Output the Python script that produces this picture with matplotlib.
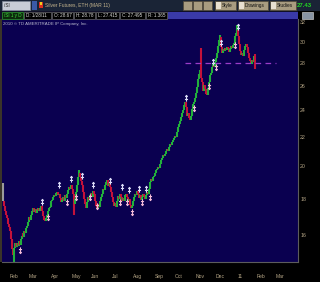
import numpy as np
import pandas as pd
import matplotlib
matplotlib.use("Agg")
import matplotlib.pyplot as plt
from matplotlib.patches import Rectangle
from matplotlib.path import Path

plt.rcParams["font.family"] = ["Liberation Sans", "DejaVu Sans"]

# ------------------------------------------------------------------------
# Data: daily closes, /SI Mar-11, 2010-01-21 .. 2011-01-28
# ------------------------------------------------------------------------

holidays = ["2010-02-15", "2010-04-02", "2010-05-31", "2010-07-05", "2010-09-06",
            "2010-11-25", "2010-12-24", "2011-01-17", "2011-02-21"]

first_open = 18.9
closes = [
  # Jan 2010
  17.85, 17.6, 17.3, 17.1, 16.9, 16.6, 16.45,
  # Feb
  16.2, 15.8, 15.3, 15.0, 15.35, 15.6, 15.4, 15.6, 15.45, 15.7, 15.5, 15.8, 15.95,
  16.1, 15.9, 16.2, 16.1, 16.35, 16.5,
  # Mar
  16.7, 16.95, 16.8, 17.1, 17.3, 17.45, 17.25, 17.4, 17.2, 17.35, 17.5, 17.3, 17.45,
  17.6, 17.3, 17.0, 16.8, 16.75, 16.9, 17.1, 17.3, 17.5, 17.55,
  # Apr
  17.85, 17.95, 18.1, 18.25, 18.15, 18.35, 18.4, 18.2, 18.3, 18.05, 17.8, 17.95, 18.1,
  17.85, 18.0, 18.2, 18.05, 18.3, 18.55, 18.7, 18.6,
  # May
  18.85, 18.6, 18.3, 17.7, 18.0, 18.4, 18.8, 19.3, 19.6, 19.3, 19.1, 18.8, 18.4, 18.0,
  17.7, 17.5, 17.8, 18.1, 17.95, 18.2,
  # Jun
  18.35, 18.1, 18.45, 18.3, 17.9, 17.6, 17.45, 17.7, 17.55, 17.85, 18.1, 18.3, 18.6,
  18.5, 18.8, 19.0, 19.15, 18.9, 18.75, 18.95, 18.7, 18.4,
  # Jul
  18.1, 17.8, 17.6, 17.75, 17.55, 17.9, 18.15, 18.0, 18.3, 18.1, 17.85, 18.05, 17.9,
  18.2, 18.3, 18.1, 17.85, 18.0, 17.65, 17.45, 17.6,
  # Aug
  17.85, 18.1, 18.3, 18.2, 18.45, 18.3, 18.05, 18.2, 17.95, 18.1, 18.3, 18.15, 18.0,
  18.25, 18.4, 18.3, 18.6, 18.85, 19.0, 19.2, 19.05, 19.3,
  # Sep
  19.4, 19.55, 19.75, 19.85, 19.95, 19.9, 20.15, 20.4, 20.55, 20.75, 20.7, 20.85, 21.0,
  21.15, 21.05, 21.3, 21.5, 21.45, 21.65, 21.8, 21.95,
  # Oct
  22.1, 22.0, 22.35, 22.7, 22.95, 23.2, 23.5, 23.8, 24.0, 24.4, 24.7, 24.3, 23.6, 23.8,
  23.4, 23.25, 23.6, 23.9, 24.1, 24.5, 24.7,
  # Nov
  25.0, 25.4, 25.9, 26.6, 27.0, 27.4, 26.7, 26.3, 25.6, 26.1, 25.7, 25.3, 25.2, 25.8,
  26.3, 26.9, 27.1, 27.6, 27.9, 27.6, 28.1,
  # Dec
  28.5, 28.9, 29.6, 30.2, 30.5, 29.5, 28.9, 29.3, 29.1, 29.4, 29.2, 29.5, 29.4, 29.0,
  29.3, 29.6, 29.4, 29.7, 29.9, 30.3, 30.6, 30.9,
  # Jan 2011
  31.2, 30.6, 29.8, 29.1, 28.7, 28.9, 28.6, 29.2, 29.6, 29.8, 29.5, 28.9, 28.5, 28.2,
  27.9, 28.3, 28.1, 28.67, 27.495,
]

# long wicks that stick out of the bodies
wick_dates = ["2010-01-21", "2010-02-05", "2010-05-06", "2010-05-13", "2010-11-09",
              "2010-12-07", "2011-01-03", "2011-01-28"]
wick_highs = [18.95, None, None, 19.8, 29.4, 30.7, 31.7, 28.78]
wick_lows = [None, 14.66, 17.1, None, None, None, None, 27.415]

# study signals
sell_dates = ["2010-03-19", "2010-04-14", "2010-05-03", "2010-05-18", "2010-06-03",
              "2010-06-29", "2010-07-16", "2010-07-27", "2010-08-10", "2010-08-19",
              "2010-10-18", "2010-11-26", "2010-12-08", "2011-01-04"]
sell_prices = [17.8, 18.8, 19.2, 19.4, 18.8, 19.1, 18.7, 18.5, 18.6, 18.6,
               25.0, 28.1, 29.9, 31.5]
buy_dates = ["2010-02-16", "2010-03-29", "2010-04-27", "2010-05-10", "2010-05-28",
             "2010-06-09", "2010-07-14", "2010-07-23", "2010-07-30", "2010-08-13",
             "2010-08-25", "2010-10-29", "2010-11-19", "2010-12-01", "2010-12-30"]
buy_prices = [15.24, 16.97, 17.8, 18.1, 18.1, 17.6, 17.8, 17.8, 17.24, 17.8,
              18.1, 24.2, 26.0, 27.6, 29.7]

level = 28.0
level_span = ["2010-10-15", "2011-03-01"]

price_ticks = [16, 18, 20, 22, 24, 26, 28, 30, 32]

# ------------------------------------------------------------------------
# Plot
# ------------------------------------------------------------------------

W, H = 320, 282
fig = plt.figure(figsize=(W / 100, H / 100), dpi=100, facecolor="black")

def box(x0, y0, x1, y1, fc, ec="none", lw=0.5):
  fig.add_artist(Rectangle((x0 / W, 1 - y1 / H), (x1 - x0) / W, (y1 - y0) / H,
                           transform=fig.transFigure, facecolor=fc,
                           edgecolor=ec, linewidth=lw))

def label(x, y, s, color, size=3.6, **kw):
  fig.text(x / W, 1 - y / H, s, color=color, fontsize=size, va="center", **kw)

days = pd.bdate_range("2010-01-21", "2011-03-31")
days = days[~days.isin(pd.to_datetime(holidays))]
pos = {d: i for i, d in enumerate(days)}
def idx(ds):
  return [pos[pd.Timestamp(d)] for d in ds]

n = len(closes)
assert days[n - 1] == pd.Timestamp("2011-01-28"), days[n - 1]

c = np.array(closes)
o = np.array([first_open] + closes[:-1])
hi = np.maximum(o, c)
lo = np.minimum(o, c)
for i, h, l in zip(idx(wick_dates), wick_highs, wick_lows):
  if h is not None:
    hi[i] = h
  if l is not None:
    lo[i] = l

colors = np.where(c >= o, "#22b03c", "#c4123a").astype(object)
colors[0] = "#9a9a9a"

ax = fig.add_axes([2 / W, 1 - 262 / H, 296 / W, 243 / H])
ax.set_facecolor("#0a0050")
x = np.arange(n)
ax.vlines(x, lo, hi, colors=list(colors), linewidth=1.5)

ax.hlines(level, *idx(level_span), colors="#9a3cc8", linewidth=0.9,
          linestyles=(0, (4.5, 3.5)))

def arrow(down):
  s = -1 if down else 1
  verts = [(0, s), (0, -s), (-0.5, 0.3 * s), (0.5, 0.3 * s),
           (-0.35, -0.5 * s), (0, -s), (0.35, -0.5 * s)]
  codes = [Path.MOVETO, Path.LINETO, Path.MOVETO, Path.LINETO,
           Path.MOVETO, Path.LINETO, Path.LINETO]
  return Path(verts, codes)

ax.plot(idx(sell_dates), sell_prices, linestyle="none", marker=arrow(True),
        markersize=4.5, markeredgewidth=0.8, color="#dcdcf8")
ax.plot(idx(buy_dates), buy_prices, linestyle="none", marker=arrow(False),
        markersize=4.5, markeredgewidth=0.8, color="#f4bcd8")

ax.set_yscale("log")
ax.set_ylim(14.66, 32.3)
ax.set_xlim(-1, len(days))
ax.yaxis.tick_right()
ax.set_yticks(price_ticks)
ax.set_yticklabels([str(t) for t in price_ticks])
ax.yaxis.set_minor_locator(matplotlib.ticker.NullLocator())

month_pos = [i for i in range(1, len(days)) if days[i].month != days[i - 1].month]
month_lab = [days[i].strftime("%y") if days[i].month == 1 else days[i].strftime("%b")
             for i in month_pos]
ax.set_xticks(month_pos)
ax.set_xticklabels(month_lab, ha="left")

ax.tick_params(axis="y", length=0, pad=1.5, labelsize=3.8, labelcolor="#b8a888")
ax.tick_params(axis="x", length=0, pad=8.5, labelsize=3.6, labelcolor="#b8a888")
for side in ["left", "top"]:
  ax.spines[side].set_visible(False)
for side in ["right", "bottom"]:
  ax.spines[side].set_color("#5c5c5c")
  ax.spines[side].set_linewidth(0.8)

# left frame strip
box(0, 19, 2, 262, "#3a3428")

# toolbar
box(0, 0, 320, 11, "#1a2436")
box(2, 1, 30, 10, "#c8ccd6", "#808898")
label(4, 5.5, "/SI", "#202020", size=3.4)
box(32, 1.5, 37, 9.5, "#3a5aa8")
box(39, 2, 43, 8, "#d83020")
box(40, 2, 42, 5, "#f0d020")
label(45, 5.5, "Silver Futures, ETH (MAR 11)", "#c8b890", size=3.5)
for bx in [183, 193, 203]:
  box(bx, 1.5, bx + 9, 9.5, "#a89c80", "#504838")
for x0, x1, s in [(215, 236, "Style"), (238, 268, "Drawings"), (270, 296, "Studies")]:
  box(x0, 1.5, x1, 9.5, "#a89c80", "#504838")
  box(x0 + 1, 2.5, x0 + 6, 8.5, "#e8e0d0")
  label(x0 + 7, 5.5, s, "#101010", size=3.4)
label(297, 5.5, "27.43", "#22d822", size=4.3, fontweight="bold")

# quote row
box(0, 11, 298, 19, "#101028")
box(168, 12, 298, 19, "#3a3aa8")
box(302, 12, 313, 19, "#8894a4", "#c0c0c0")
box(2, 12, 23, 18.5, "#0c2a0c", "#30a030")
label(4, 15.3, "/SI 1 y D", "#40e040", size=3.3)
quote = [(24, 51, "D: 1/28/11"), (52, 73, "O: 28.67"), (74, 95, "H: 28.78"),
         (96, 119, "L: 27.415"), (120, 145, "C: 27.495"), (146, 167, "R: 1.365")]
for x0, x1, s in quote:
  box(x0, 12, x1, 18.5, "black", "#6a6a6a")
  label(x0 + 1.5, 15.3, s, "#d8d8d8", size=3.3)

label(3, 23.5, "2010 \u00a9 TD AMERITRADE IP Company, Inc.", "#b8b8cc", size=3.2)

fig.savefig("out.png", dpi=100, facecolor=fig.get_facecolor())
